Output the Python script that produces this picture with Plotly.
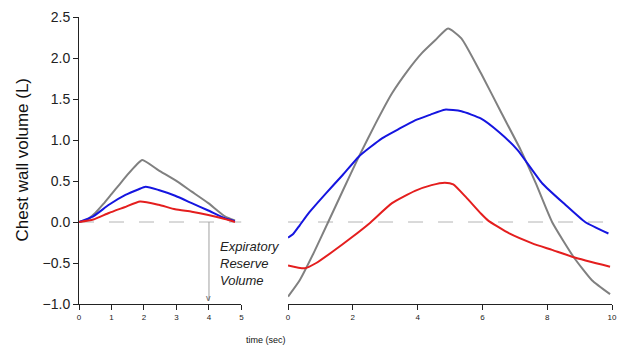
import plotly.graph_objects as go

# ---- data: left panel (normal breath) ----
t_left_gray = [0, 0.25, 0.5, 0.75, 1.0, 1.25, 1.5, 1.75, 1.95, 2.45, 2.96, 3.47, 3.98, 4.49, 4.8]
v_left_gray = [0, 0.03, 0.11, 0.22, 0.34, 0.46, 0.58, 0.69, 0.755, 0.63, 0.51, 0.37, 0.23, 0.07, 0.02]

t_left_blue = [0, 0.44, 0.92, 1.43, 1.84, 2.05, 2.45, 2.96, 3.47, 3.98, 4.49, 4.8]
v_left_blue = [0, 0.07, 0.21, 0.33, 0.40, 0.43, 0.39, 0.32, 0.23, 0.14, 0.045, 0.01]

t_left_red = [0, 0.44, 0.92, 1.4, 1.88, 2.45, 2.96, 3.47, 3.98, 4.49, 4.8]
v_left_red = [0, 0.03, 0.11, 0.18, 0.25, 0.21, 0.155, 0.125, 0.085, 0.036, 0.0]

# ---- data: right panel (deep breath) ----
t_right_gray = [0, 0.36, 0.8, 1.24, 1.7, 2.19, 2.7, 3.21, 3.7, 4.13, 4.55, 4.94, 5.35, 5.96, 6.6, 7.18, 7.65, 8.15, 8.82, 9.38, 9.94]
v_right_gray = [-0.91, -0.71, -0.37, 0.0, 0.39, 0.80, 1.20, 1.57, 1.85, 2.06, 2.22, 2.36, 2.24, 1.81, 1.32, 0.88, 0.47, 0.0, -0.43, -0.71, -0.88]

t_right_blue = [0, 0.15, 0.36, 0.66, 1.17, 1.68, 2.19, 2.9, 3.4, 3.92, 4.4, 4.84, 5.35, 5.96, 6.5, 7.08, 7.85, 8.56, 9.17, 9.89]
v_right_blue = [-0.19, -0.15, -0.04, 0.12, 0.35, 0.57, 0.80, 1.02, 1.13, 1.24, 1.31, 1.37, 1.35, 1.26, 1.10, 0.88, 0.47, 0.21, 0.0, -0.14]

t_right_red = [0, 0.51, 0.87, 1.38, 1.99, 2.5, 3.21, 3.92, 4.43, 4.84, 5.1, 5.5, 5.96, 6.17, 6.83, 7.54, 8.15, 8.82, 9.94]
v_right_red = [-0.53, -0.565, -0.50, -0.36, -0.18, -0.02, 0.23, 0.38, 0.45, 0.48, 0.46, 0.30, 0.10, 0.02, -0.14, -0.26, -0.34, -0.43, -0.545]

y_ticks = [-1.0, -0.5, 0.0, 0.5, 1.0, 1.5, 2.0, 2.5]
x_ticks_left = [0, 1, 2, 3, 4, 5]
x_ticks_right = [0, 2, 4, 6, 8, 10]

GRAY = "#808080"
BLUE = "#1515e0"
RED = "#e41e1e"

fig = go.Figure()

def add(x, y, color, axis):
    fig.add_trace(go.Scatter(x=x, y=y, mode="lines", line=dict(color=color, width=2, shape="spline", smoothing=0.5),
                             xaxis=axis, yaxis="y", showlegend=False, hoverinfo="skip"))

add(t_left_gray, v_left_gray, GRAY, "x")
add(t_left_blue, v_left_blue, BLUE, "x")
add(t_left_red, v_left_red, RED, "x")
add(t_right_gray, v_right_gray, GRAY, "x2")
add(t_right_blue, v_right_blue, BLUE, "x2")
add(t_right_red, v_right_red, RED, "x2")

# zero reference dashed lines
fig.add_shape(type="line", xref="x", yref="y", x0=0, x1=5, y0=0, y1=0,
              line=dict(color="#b4b4b4", width=1, dash="longdash"), layer="below")
fig.add_shape(type="line", xref="x2", yref="y", x0=0, x1=10.1, y0=0, y1=0,
              line=dict(color="#b4b4b4", width=1, dash="longdash"), layer="below")
# ERV arrow line
fig.add_shape(type="line", xref="x", yref="y", x0=4, x1=4, y0=0, y1=-0.96,
              line=dict(color="#a0a0a0", width=1))

fig.add_annotation(x=4, y=-0.93, xref="x", yref="y", text="v", showarrow=False,
                   font=dict(size=9, color="#606060", family="Liberation Sans, Arial"), yanchor="middle")
fig.add_annotation(x=4.27, y=-0.5, xref="x", yref="y", text="Expiratory<br>Reserve<br>Volume",
                   showarrow=False, xanchor="left", yanchor="middle", align="left",
                   font=dict(size=13, color="#222222", family="Liberation Sans, Arial", style="italic"))
fig.add_annotation(x=-0.106, y=0.502, xref="paper", yref="paper", text="Chest wall volume (L)",
                   textangle=-90, showarrow=False, xanchor="center", yanchor="middle",
                   font=dict(size=17, color="#111111", family="Liberation Sans, Arial"))
fig.add_annotation(x=0.351, y=-0.125, xref="paper", yref="paper", text="time (sec)",
                   showarrow=False, xanchor="center", yanchor="middle",
                   font=dict(size=9, color="#111111", family="Liberation Sans, Arial"))

axis_common = dict(showgrid=False, zeroline=False, showline=True, linecolor="#222222", linewidth=1,
                   ticks="outside", ticklen=5, tickcolor="#222222",
                   tickfont=dict(size=8, color="#222222", family="Liberation Sans, Arial"))

fig.update_layout(
    width=620, height=347,
    margin=dict(l=79, r=3, t=17, b=43),
    paper_bgcolor="white", plot_bgcolor="white",
    xaxis=dict(domain=[0, 0.3048], range=[0, 5], tickvals=x_ticks_left, anchor="y", **axis_common),
    xaxis2=dict(domain=[0.3922, 1], range=[0, 10], tickvals=x_ticks_right, anchor="y", **axis_common),
    yaxis=dict(range=[-1.0, 2.5], tickvals=y_ticks, tickformat=".1f", showgrid=False, zeroline=False,
               showline=True, linecolor="#222222", linewidth=1, ticks="outside", ticklen=5,
               tickcolor="#222222", tickfont=dict(size=14, color="#222222", family="Liberation Sans, Arial")),
)

fig.write_html("out.html")
